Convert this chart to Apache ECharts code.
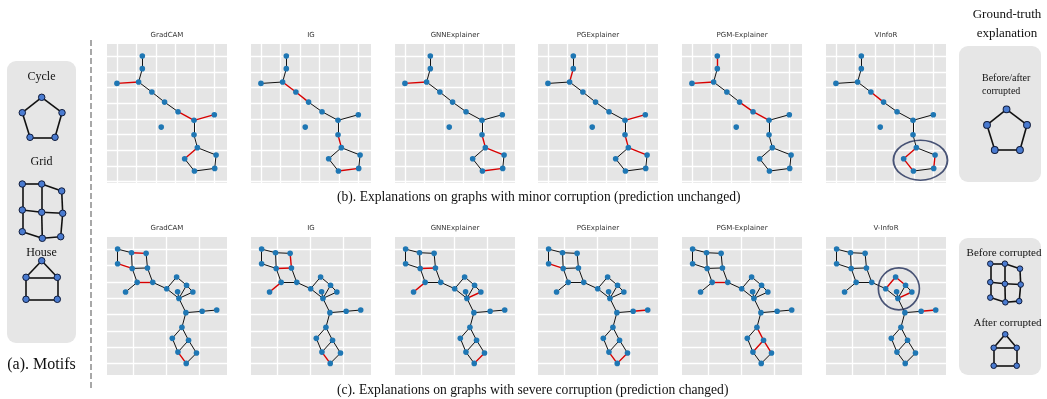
<!DOCTYPE html>
<html>
<head>
<meta charset="utf-8">
<script src="https://cdn.jsdelivr.net/npm/echarts@6/dist/echarts.min.js"></script>
<style>
  html, body { margin: 0; padding: 0; background: #ffffff; }
  #chart { width: 1047px; height: 399px; }
</style>
</head>
<body>
<div id="chart"></div>
<script>
// ---------- data ----------
const methodsMinor = ['GradCAM', 'IG', 'GNNExplainer', 'PGExplainer', 'PGM-Explainer', 'VInfoR'];
const methodsSevere = ['GradCAM', 'IG', 'GNNExplainer', 'PGExplainer', 'PGM-Explainer', 'V-InfoR'];

// graph with minor corruption: node layout [name, x, y]
const minorNodes = [
  ['A', 1.30, 8.00], ['B', 1.30, 7.20], ['C', 1.11, 6.35], ['D', 0.00, 6.26],
  ['E', 1.79, 5.71], ['F', 2.44, 5.07], ['G', 3.13, 4.46], ['H', 3.95, 3.91],
  ['I', 4.99, 4.27], ['J', 2.27, 3.48], ['K', 3.95, 2.99], ['L', 4.12, 2.17],
  ['M', 5.08, 1.70], ['N', 5.01, 0.85], ['O', 3.97, 0.68], ['P', 3.47, 1.46]
];
const minorEdges = [
  ['A', 'B'], ['B', 'C'], ['C', 'D'], ['C', 'E'], ['E', 'F'], ['F', 'G'], ['G', 'H'],
  ['H', 'I'], ['H', 'K'], ['K', 'L'], ['L', 'M'], ['M', 'N'], ['N', 'O'], ['O', 'P'], ['P', 'L']
];
// edges marked as explanation by each method
const minorExplained = [
  ['C-D', 'G-H', 'H-I', 'P-L'],
  ['C-E', 'E-F', 'K-L', 'N-O'],
  ['C-D', 'K-L', 'L-M', 'N-O'],
  ['B-C', 'H-I', 'K-L', 'L-M'],
  ['A-B', 'C-D', 'F-G', 'G-H'],
  ['E-F', 'P-L', 'O-P', 'M-N']
];
const minorMotif = ['L', 'M', 'N', 'O', 'P'];

// graph with severe corruption
const severeNodes = [
  ['a1', -0.47, 7.00], ['a2', -0.05, 6.78], ['a3', 0.39, 6.74], ['a4', -0.47, 6.11],
  ['a5', -0.03, 5.82], ['a6', 0.43, 5.85], ['a7', 0.12, 4.97], ['a8', 0.59, 4.97],
  ['a9', -0.23, 4.38],
  ['b1', 1.01, 4.58], ['b2', 1.31, 5.30], ['b3', 1.61, 4.79], ['b4', 1.34, 4.40],
  ['b5', 1.80, 4.38], ['b6', 1.38, 3.99],
  ['c1', 1.59, 3.12], ['c2', 2.08, 3.20], ['c3', 2.52, 3.28],
  ['d1', 1.47, 2.22], ['d2', 1.18, 1.55], ['d3', 1.67, 1.43], ['d4', 1.35, 0.71],
  ['d5', 1.91, 0.65], ['d6', 1.60, 0.02]
];
const severeEdges = [
  ['a1', 'a2'], ['a2', 'a3'], ['a1', 'a4'], ['a4', 'a5'], ['a2', 'a5'], ['a3', 'a6'],
  ['a5', 'a6'], ['a5', 'a7'], ['a6', 'a8'], ['a7', 'a8'], ['a7', 'a9'], ['a8', 'b1'],
  ['b1', 'b2'], ['b2', 'b3'], ['b3', 'b5'], ['b3', 'b6'], ['b4', 'b6'], ['b5', 'b6'],
  ['b1', 'b6'], ['b6', 'c1'], ['c1', 'c2'], ['c2', 'c3'], ['c1', 'd1'],
  ['d1', 'd2'], ['d1', 'd3'], ['d2', 'd4'], ['d3', 'd4'], ['d3', 'd5'], ['d4', 'd6'], ['d5', 'd6']
];
const severeExplained = [
  ['a2-a3', 'a4-a5', 'a7-a8', 'd4-d6'],
  ['a3-a6', 'a5-a6', 'a7-a9', 'd4-d6'],
  ['a5-a6', 'a7-a9', 'b5-b6', 'd5-d6'],
  ['a4-a5', 'c2-c3', 'd4-d6', 'd5-d6'],
  ['a7-a8', 'd1-d3', 'd3-d4', 'd3-d5'],
  ['b1-b2', 'b2-b3', 'b5-b6', 'c2-c3']
];
const severeMotif = ['b1', 'b2', 'b3', 'b4', 'b5', 'b6'];

// motif shapes (local layout units, y grows downward)
const cycleNodes = [['t', 19.4, 0], ['l', 0, 15.4], ['r', 39.7, 15.4], ['bl', 7.7, 40], ['br', 32.7, 40]];
const cycleEdges = [['t', 'l'], ['t', 'r'], ['l', 'bl'], ['r', 'br'], ['bl', 'br']];
const gridNodes = [
  ['g0', 0, 0], ['g1', 19.4, 0], ['g2', 39.4, 7],
  ['g3', 0, 26], ['g4', 19.4, 28.3], ['g5', 40.4, 29.3],
  ['g6', 0, 47.7], ['g7', 20, 54.3], ['g8', 38.4, 52.7]
];
const gridEdges = [
  ['g0', 'g1'], ['g1', 'g2'], ['g3', 'g4'], ['g4', 'g5'], ['g6', 'g7'], ['g7', 'g8'],
  ['g0', 'g3'], ['g3', 'g6'], ['g1', 'g4'], ['g4', 'g7'], ['g2', 'g5'], ['g5', 'g8']
];
const houseNodes = [['h0', 15.7, 0], ['h1', 0, 16.6], ['h2', 31.3, 16.6], ['h3', 0, 38.6], ['h4', 31.3, 38.6]];
const houseEdges = [['h0', 'h1'], ['h0', 'h2'], ['h1', 'h2'], ['h1', 'h3'], ['h2', 'h4'], ['h3', 'h4']];

// ---------- layout & style ----------
const PANEL_LEFTS = [107, 251, 395, 538, 682, 826];
const PANEL_W = 120;
const ROWS = [
  { top: 44, height: 139, x: [-0.51, 5.64], y: [-0.08, 8.77] },
  { top: 237, height: 138, x: [-0.79, 2.83], y: [-0.69, 7.74] }
];
const BLUE = '#1f77b4';
const RED = '#d80000';
const SERIF = '"Liberation Serif", "Times New Roman", serif';
const SANS = '"DejaVu Sans", sans-serif';

const grids = [], xAxes = [], yAxes = [], series = [], graphics = [];

function valueAxis(gi, range, extra) {
  return Object.assign({
    type: 'value', gridIndex: gi, min: range[0], max: range[1],
    minInterval: 1, maxInterval: 1,
    axisLine: { show: false }, axisTick: { show: false }, axisLabel: { show: false },
    splitLine: { show: true, showMinLine: false, showMaxLine: false, lineStyle: { color: '#ffffff', width: 1.3 } }
  }, extra || {});
}

function edgeKey(a, b) { return a + '-' + b; }

function explanationPanel(gi, nodes, edges, marked) {
  const set = new Set(marked);
  series.push({
    type: 'graph', coordinateSystem: 'cartesian2d', xAxisIndex: gi, yAxisIndex: gi,
    symbol: 'circle', symbolSize: 5.6, z: 3,
    itemStyle: { color: BLUE },
    label: { show: false }, emphasis: { disabled: true }, silent: true, animation: false,
    lineStyle: { color: '#111111', width: 1, opacity: 1 },
    data: nodes.map(n => ({ name: n[0], value: [n[1], n[2]] })),
    links: edges.map(e => {
      const on = set.has(edgeKey(e[0], e[1])) || set.has(edgeKey(e[1], e[0]));
      return { source: e[0], target: e[1], lineStyle: on ? { color: RED, width: 1.4 } : {} };
    })
  });
}

function centroid(nodes, names) {
  const pts = nodes.filter(n => names.includes(n[0]));
  return [pts.reduce((s, p) => s + p[1], 0) / pts.length, pts.reduce((s, p) => s + p[2], 0) / pts.length];
}

// explanation panels
[[methodsMinor, minorNodes, minorEdges, minorExplained, minorMotif, [54, 40]],
 [methodsSevere, severeNodes, severeEdges, severeExplained, severeMotif, [41, 42]]].forEach((row, r) => {
  const [names, nodes, edges, marked, motif, ring] = row;
  const L = ROWS[r];
  names.forEach((name, i) => {
    const gi = grids.length;
    grids.push({ left: PANEL_LEFTS[i], top: L.top, width: PANEL_W, height: L.height,
      show: true, backgroundColor: '#e5e5e5', borderWidth: 0, containLabel: false });
    xAxes.push(valueAxis(gi, L.x));
    yAxes.push(valueAxis(gi, L.y));
    explanationPanel(gi, nodes, edges, marked[i]);
    graphics.push({ type: 'text', x: PANEL_LEFTS[i] + PANEL_W / 2, y: L.top - 5.5,
      style: { text: name, font: '7px ' + SANS, fill: '#333', align: 'center', verticalAlign: 'bottom' } });
    if (i === names.length - 1) {
      // highlight ring around the recovered motif
      series.push({
        type: 'scatter', xAxisIndex: gi, yAxisIndex: gi, clip: false, silent: true, z: 4,
        symbol: 'circle', symbolSize: ring, animation: false,
        itemStyle: { color: 'rgba(0,0,0,0)', borderColor: '#1f2d57', borderWidth: 1.7 },
        data: [centroid(nodes, motif)]
      });
    }
  });
});

// motif sketches
function motifPanel(nodes, edges, box, ext, size, stroke) {
  const gi = grids.length;
  grids.push({ left: box[0], top: box[1], width: box[2], height: box[3], show: false, containLabel: false });
  const hidden = { type: 'value', gridIndex: gi, show: false, splitLine: { show: false } };
  xAxes.push(Object.assign({}, hidden, { min: 0, max: ext[0] }));
  yAxes.push(Object.assign({}, hidden, { min: 0, max: ext[1], inverse: true }));
  series.push({
    type: 'graph', coordinateSystem: 'cartesian2d', xAxisIndex: gi, yAxisIndex: gi,
    symbol: 'circle', symbolSize: size, silent: true, animation: false, z: 5,
    itemStyle: { color: '#4a7bd0', borderColor: '#101c3c', borderWidth: 1 },
    lineStyle: { color: '#111111', width: stroke, opacity: 1 },
    label: { show: false }, emphasis: { disabled: true },
    data: nodes.map(n => ({ name: n[0], value: [n[1], n[2]] })),
    links: edges.map(e => ({ source: e[0], target: e[1] }))
  });
}
motifPanel(cycleNodes, cycleEdges, [22.3, 97.3, 39.7, 40], [39.7, 40], 6.5, 1.6);
motifPanel(gridNodes, gridEdges, [22.3, 184, 40.4, 54.3], [40.4, 54.3], 6.5, 1.6);
motifPanel(houseNodes, houseEdges, [26, 260.7, 31.3, 38.6], [31.3, 38.6], 6.5, 1.6);
motifPanel(cycleNodes, cycleEdges, [987, 109.3, 40, 40.7], [39.7, 40], 6.8, 1.6);
motifPanel(gridNodes, gridEdges, [990.3, 263.7, 30.4, 38.6], [40.4, 54.3], 5.6, 1.6);
motifPanel(houseNodes, houseEdges, [993.7, 334.3, 23, 31.4], [31.3, 38.6], 5.6, 1.6);

// boxes, separator and captions
const bg = [
  { type: 'rect', z: -10, shape: { x: 7, y: 61, width: 69, height: 282, r: 9 }, style: { fill: '#e6e6e6' } },
  { type: 'rect', z: -10, shape: { x: 959, y: 46, width: 82, height: 136, r: 9 }, style: { fill: '#e6e6e6' } },
  { type: 'rect', z: -10, shape: { x: 959, y: 238, width: 82, height: 137, r: 9 }, style: { fill: '#e6e6e6' } },
  { type: 'line', shape: { x1: 91, y1: 40, x2: 91, y2: 388 },
    style: { stroke: '#a8a8a8', lineWidth: 2, lineDash: [6, 3] } }
];
function txt(text, x, y, size, align) {
  return { type: 'text', x: x, y: y,
    style: { text: text, font: size + 'px ' + SERIF, fill: '#111', align: align || 'center', verticalAlign: 'middle' } };
}
const labels = [
  txt('Cycle', 41.5, 77, 12), txt('Grid', 41.5, 162, 12), txt('House', 41.5, 253, 12),
  txt('(a). Motifs', 41.5, 365, 16),
  txt('Ground-truth', 1007, 15, 13), txt('explanation', 1007, 34, 13),
  txt('Before/after', 982, 78, 10, 'left'), txt('corrupted', 982, 91, 10, 'left'),
  txt('Before corrupted', 1004, 253, 11), txt('After corrupted', 1007.5, 323, 11),
  txt('(b). Explanations on graphs with minor corruption (prediction unchanged)', 337, 197, 13.6, 'left'),
  txt('(c). Explanations on graphs with severe corruption (prediction changed)', 337, 390, 13.6, 'left')
];

const chart = echarts.init(document.getElementById('chart'), null, { renderer: 'canvas' });
chart.setOption({
  animation: false,
  backgroundColor: '#ffffff',
  grid: grids,
  xAxis: xAxes,
  yAxis: yAxes,
  series: series,
  graphic: { elements: bg.concat(graphics, labels) }
});
</script>
</body>
</html>
